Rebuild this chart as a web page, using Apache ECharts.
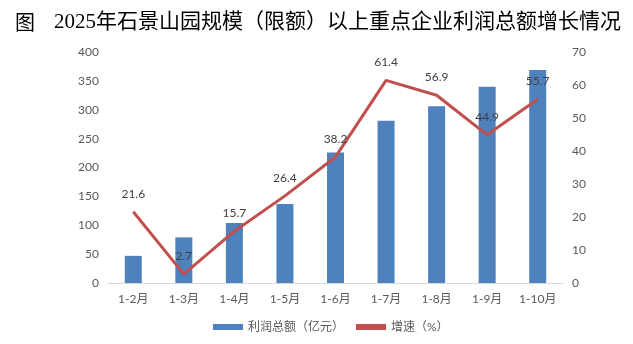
<!DOCTYPE html>
<html>
<head>
<meta charset="utf-8">
<script src="https://cdn.jsdelivr.net/npm/echarts@6/dist/echarts.min.js"></script>
<style>
  html, body { margin: 0; padding: 0; background: #fff; }
  #chart { width: 633px; height: 344px; }
</style>
</head>
<body>
<div id="chart"></div>
<script>
// Periods (cumulative months)
const categories = ['1-2月', '1-3月', '1-4月', '1-5月', '1-6月', '1-7月', '1-8月', '1-9月', '1-10月'];
// Total profit, 100 million yuan
const profitValues = [47, 79, 104, 137, 226, 281, 306, 340, 369];
// Growth rate, %
const growthValues = [21.6, 2.7, 15.7, 26.4, 38.2, 61.4, 56.9, 44.9, 55.7];

const leftTicks = { min: 0, max: 400, interval: 50 };
const rightTicks = { min: 0, max: 70, interval: 10 };

const labelFont = "Lato, 'Noto Sans CJK SC', sans-serif";
const chart = echarts.init(document.getElementById('chart'), null, { renderer: 'canvas' });

chart.setOption({
  animation: false,
  backgroundColor: '#ffffff',
  title: [
    {
      text: '图',
      left: 10, top: 7,
      textStyle: { fontFamily: "'Noto Sans CJK SC'", fontSize: 20, fontWeight: 'normal', color: '#000' }
    },
    {
      text: '2025年石景山园规模（限额）以上重点企业利润总额增长情况',
      left: 49, top: 7,
      textStyle: { fontFamily: "'Liberation Serif', 'Noto Sans CJK SC'", fontSize: 21, fontWeight: 'normal', color: '#000' }
    }
  ],
  legend: {
    bottom: 6,
    left: 208,
    itemGap: 12,
    itemWidth: 30,
    itemHeight: 6,
    textStyle: { fontFamily: labelFont, fontSize: 12, color: '#595959' },
    data: [
      { name: '利润总额（亿元）', icon: 'rect' },
      { name: '增速（%）', icon: 'rect' }
    ]
  },
  grid: { left: 108, right: 70, top: 52, bottom: 61 },
  xAxis: {
    type: 'category',
    data: categories,
    axisLine: { lineStyle: { color: '#d9d9d9', width: 1 } },
    axisTick: { show: false },
    axisLabel: { fontFamily: labelFont, fontSize: 12, color: '#595959', margin: 10 }
  },
  yAxis: [
    {
      type: 'value',
      min: leftTicks.min, max: leftTicks.max, interval: leftTicks.interval,
      splitLine: { show: false },
      axisLine: { show: false },
      axisTick: { show: false },
      axisLabel: { fontFamily: labelFont, fontSize: 12, color: '#595959', margin: 9 }
    },
    {
      type: 'value',
      min: rightTicks.min, max: rightTicks.max, interval: rightTicks.interval,
      splitLine: { show: false },
      axisLine: { show: false },
      axisTick: { show: false },
      axisLabel: { fontFamily: labelFont, fontSize: 12, color: '#595959', margin: 9 }
    }
  ],
  series: [
    {
      name: '利润总额（亿元）',
      type: 'bar',
      yAxisIndex: 0,
      data: profitValues,
      barWidth: 17,
      itemStyle: { color: '#4f81bd' }
    },
    {
      name: '增速（%）',
      type: 'line',
      yAxisIndex: 1,
      data: growthValues,
      symbol: 'circle',
      symbolSize: 0.1,
      lineStyle: { color: '#c0504d', width: 3 },
      itemStyle: { color: '#c0504d' },
      label: {
        show: true,
        position: 'top',
        distance: 12,
        fontFamily: labelFont,
        fontSize: 12,
        color: '#404040'
      },
      z: 3
    }
  ]
});
</script>
</body>
</html>
